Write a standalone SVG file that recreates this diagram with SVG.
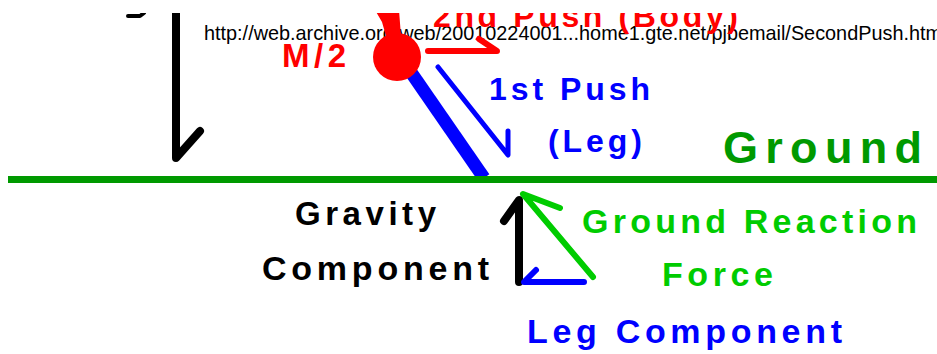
<svg xmlns="http://www.w3.org/2000/svg" width="937" height="354" viewBox="0 0 937 354">
<style>
.lbl{font-family:"Liberation Sans",Arial,sans-serif;font-weight:bold}
.url{font-family:"Liberation Sans",Arial,sans-serif;font-size:19.85px;fill:#000}
.arr{fill:none;stroke-linecap:round;stroke-linejoin:round}
</style>
<defs>
<clipPath id="clip"><rect x="0" y="13" width="937" height="341"/></clipPath>
</defs>
<rect width="937" height="354" fill="#fff"/>
<g id="url"><text class="url" x="204" y="40">http://web.archive.org/web/20010224001...home1.gte.net/pjbemail/SecondPush.htm</text></g>
<g clip-path="url(#clip)">
<g id="leg"><line x1="408" y1="68" x2="484" y2="178" stroke="#0000ff" stroke-width="13"/></g>
<g id="ground"><line x1="8" y1="179.5" x2="937" y2="179.5" stroke="#009900" stroke-width="7"/><text class="lbl" x="723" y="163" font-size="45" fill="#009900" textLength="199" lengthAdjust="spacing">Ground</text></g>
<g id="mass">
<polygon points="375,10 399,10 401,36 386,36 382,22" fill="#ff0000"/>
<circle cx="397" cy="57" r="24" fill="#ff0000"/>
<text class="lbl" x="282" y="67" font-size="33" fill="#ff0000" textLength="64" lengthAdjust="spacing">M/2</text>
</g>
<g id="mark"><path d="M128,16 L140,16 L144,13" class="arr" stroke="#000" stroke-width="4"/></g>
<g id="push2"><text class="lbl" x="433" y="27" font-size="32" fill="#ff0000" textLength="305" lengthAdjust="spacing">2nd Push (Body)</text></g>
<g id="push1"><text class="lbl" x="489" y="100" font-size="32" fill="#0000ff" textLength="161" lengthAdjust="spacing">1st Push</text><text class="lbl" x="548" y="152" font-size="32" fill="#0000ff" textLength="94" lengthAdjust="spacing">(Leg)</text></g>
<g id="gravity"><text class="lbl" x="295" y="225" font-size="33" fill="#000" textLength="141" lengthAdjust="spacing">Gravity</text><text class="lbl" x="262" y="280" font-size="34" fill="#000" textLength="227" lengthAdjust="spacing">Component</text></g>
<g id="grf"><text class="lbl" x="582" y="233" font-size="34" fill="#00cc00" textLength="335" lengthAdjust="spacing">Ground Reaction</text><text class="lbl" x="662" y="286" font-size="34" fill="#00cc00" textLength="111" lengthAdjust="spacing">Force</text></g>
<g id="legc"><text class="lbl" x="527" y="343" font-size="34" fill="#0000ff" textLength="315" lengthAdjust="spacing">Leg Component</text></g>
<g id="connectors">
<path class="arr" d="M176,5 L176,158 L200,131" stroke="#000" stroke-width="8"/>
<path class="arr" d="M428,51 L497,51 L479,39" stroke="#ff0000" stroke-width="6"/>
<path class="arr" d="M438,67 L508,155 L508,131" stroke="#0000ff" stroke-width="5"/>
<path class="arr" d="M519,282 L519,200 L504,221" stroke="#000" stroke-width="8"/>
<path class="arr" d="M584,282 L524,282 L536,270" stroke="#0000ff" stroke-width="6"/>
<path class="arr" d="M593,277 L523,194 L560,208" stroke="#00cc00" stroke-width="6"/>
</g>
</g>
</svg>
